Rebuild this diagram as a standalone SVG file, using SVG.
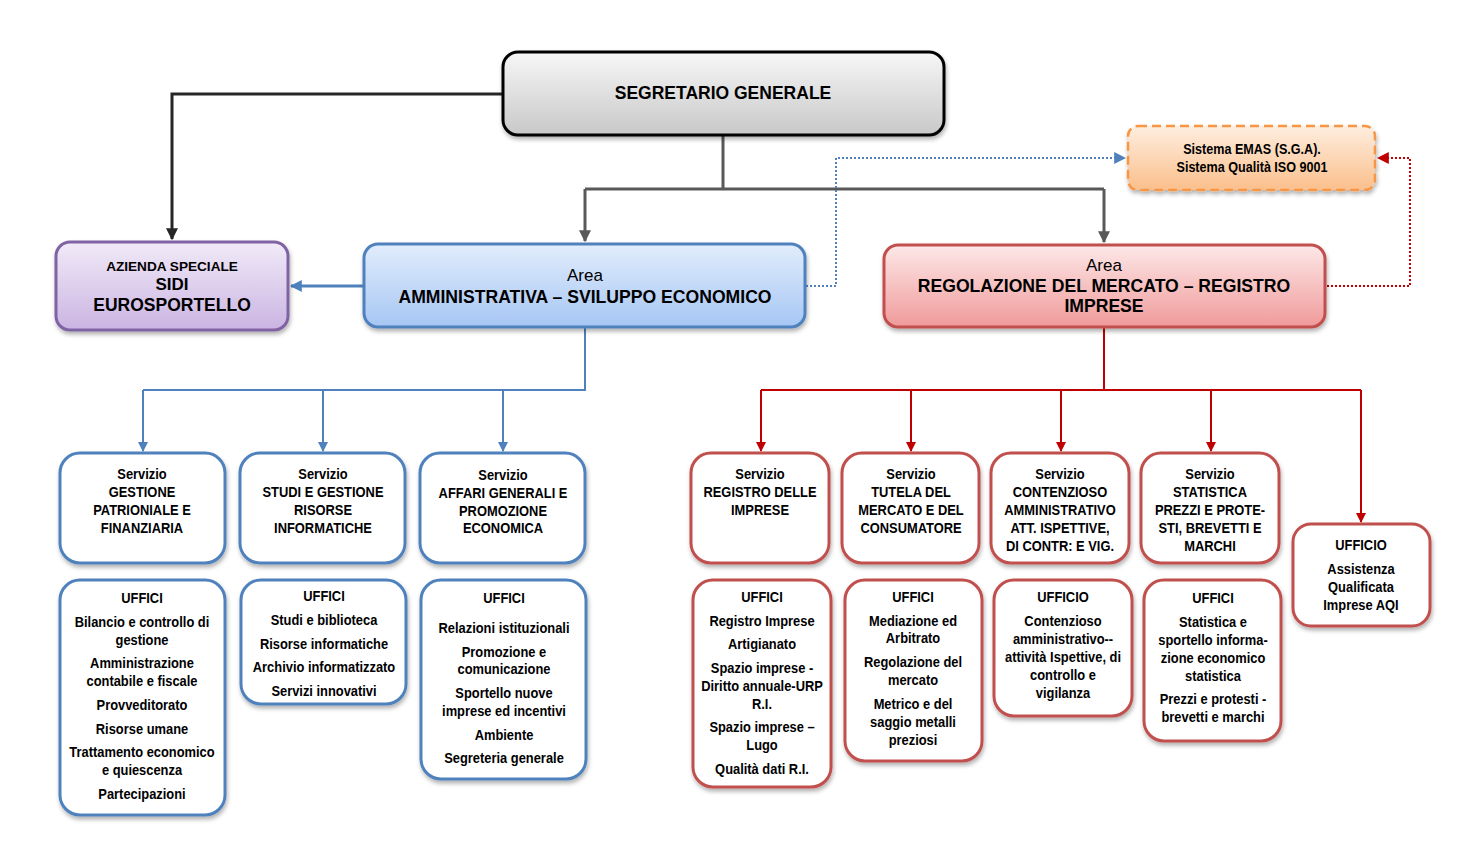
<svg xmlns="http://www.w3.org/2000/svg" width="1471" height="857" viewBox="0 0 1471 857">
<defs>
<linearGradient id="gGray" x1="0" y1="0" x2="0" y2="1"><stop offset="0" stop-color="#f7f7f7"/><stop offset="1" stop-color="#c8c8c8"/></linearGradient>
<linearGradient id="gPurple" x1="0" y1="0" x2="0" y2="1"><stop offset="0" stop-color="#f1eaf8"/><stop offset="1" stop-color="#cbb4e2"/></linearGradient>
<linearGradient id="gBlue" x1="0" y1="0" x2="0" y2="1"><stop offset="0" stop-color="#e2edfc"/><stop offset="1" stop-color="#a6c6f4"/></linearGradient>
<linearGradient id="gRed" x1="0" y1="0" x2="0" y2="1"><stop offset="0" stop-color="#fde8e8"/><stop offset="1" stop-color="#f09a9a"/></linearGradient>
<linearGradient id="gOrange" x1="0" y1="0" x2="0" y2="1"><stop offset="0" stop-color="#feeedf"/><stop offset="1" stop-color="#fbbf8c"/></linearGradient>
<filter id="sh" x="-10%" y="-10%" width="120%" height="130%"><feDropShadow dx="1" dy="3" stdDeviation="2" flood-color="#000" flood-opacity="0.3"/></filter>
<marker id="aGray" viewBox="0 0 10 10" refX="9" refY="5" markerWidth="4" markerHeight="4" orient="auto" markerUnits="strokeWidth"><path d="M0,0 L10,5 L0,10 z" fill="#595959"/></marker>
<marker id="aDark" viewBox="0 0 10 10" refX="9" refY="5" markerWidth="4" markerHeight="4" orient="auto" markerUnits="strokeWidth"><path d="M0,0 L10,5 L0,10 z" fill="#262626"/></marker>
<marker id="aBlue" viewBox="0 0 10 10" refX="9" refY="5" markerWidth="5" markerHeight="5" orient="auto" markerUnits="strokeWidth"><path d="M0,0 L10,5 L0,10 z" fill="#4f81bd"/></marker>
<marker id="aBlueT" viewBox="0 0 10 10" refX="9" refY="5" markerWidth="4" markerHeight="4" orient="auto" markerUnits="strokeWidth"><path d="M0,0 L10,5 L0,10 z" fill="#4f81bd"/></marker>
<marker id="aRed" viewBox="0 0 10 10" refX="9" refY="5" markerWidth="5" markerHeight="5" orient="auto" markerUnits="strokeWidth"><path d="M0,0 L10,5 L0,10 z" fill="#c00000"/></marker>
<marker id="aBlueD" viewBox="0 0 10 10" refX="9" refY="5" markerWidth="6" markerHeight="6" orient="auto" markerUnits="strokeWidth"><path d="M0,0 L10,5 L0,10 z" fill="#4f81bd"/></marker>
<marker id="aRedD" viewBox="0 0 10 10" refX="9" refY="5" markerWidth="6" markerHeight="6" orient="auto" markerUnits="strokeWidth"><path d="M0,0 L10,5 L0,10 z" fill="#c00000"/></marker>
</defs>
<style>
text{font-family:"Liberation Sans",Arial,sans-serif;fill:#000;text-anchor:middle;}
.n{font-weight:bold;font-size:15px;}
.b{font-weight:bold;}
.bs{stroke:#4f81bd;stroke-width:3;fill:#fff;}
.rs{stroke:#c0504d;stroke-width:3;fill:#fff;}
.cb{stroke:#4f81bd;stroke-width:2;fill:none;}
.cr{stroke:#c00000;stroke-width:2;fill:none;}
</style>
<rect width="1471" height="857" fill="#fff"/>
<g id="connectors">
<path d="M503,94 H172 V239" stroke="#262626" stroke-width="3" fill="none" marker-end="url(#aDark)"/>
<path d="M723,135 V189 M585,189 H1104" stroke="#595959" stroke-width="3" fill="none"/>
<path d="M585,189 V241" stroke="#595959" stroke-width="3" fill="none" marker-end="url(#aGray)"/>
<path d="M1104,189 V242" stroke="#595959" stroke-width="3" fill="none" marker-end="url(#aGray)"/>
<path d="M363,286 H291" stroke="#4f81bd" stroke-width="3" fill="none" marker-end="url(#aBlueT)"/>
<path d="M806,286 H836 V158 H1125" stroke="#4f81bd" stroke-width="2" stroke-dasharray="2,2" fill="none" marker-end="url(#aBlueD)"/>
<path d="M1327,286 H1410 V158 H1378" stroke="#c00000" stroke-width="2" stroke-dasharray="2,2" fill="none" marker-end="url(#aRedD)"/>
<path class="cb" d="M585,328 V390 H143"/>
<path class="cb" d="M143,390 V451" marker-end="url(#aBlue)"/>
<path class="cb" d="M323,390 V451" marker-end="url(#aBlue)"/>
<path class="cb" d="M503,390 V451" marker-end="url(#aBlue)"/>
<path class="cr" d="M1104,328 V390 M761,390 H1361"/>
<path class="cr" d="M761,390 V451" marker-end="url(#aRed)"/>
<path class="cr" d="M911,390 V451" marker-end="url(#aRed)"/>
<path class="cr" d="M1061,390 V451" marker-end="url(#aRed)"/>
<path class="cr" d="M1211,390 V451" marker-end="url(#aRed)"/>
<path class="cr" d="M1361,390 V522" marker-end="url(#aRed)"/>
</g>
<g id="segretario">
<rect x="503" y="52" width="441" height="83" rx="15" fill="url(#gGray)" stroke="#000" stroke-width="3" filter="url(#sh)"/>
<text x="723" y="99" class="b" font-size="17.5">SEGRETARIO GENERALE</text>
</g>
<g id="emas">
<rect x="1128" y="126" width="247" height="64" rx="10" fill="url(#gOrange)" stroke="#f79646" stroke-width="2.5" stroke-dasharray="9,5" filter="url(#sh)"/>
<g transform="translate(1252,0) scale(0.9,1)">
<text x="0" y="154" class="b" font-size="14">Sistema EMAS (S.G.A).</text>
<text x="0" y="172" class="b" font-size="14">Sistema Qualità ISO 9001</text>
</g>
</g>
<g id="azienda">
<rect x="56" y="242" width="232" height="88" rx="14" fill="url(#gPurple)" stroke="#8064a2" stroke-width="3" filter="url(#sh)"/>
<text x="172" y="271" class="b" font-size="13.6">AZIENDA SPECIALE</text>
<text x="172" y="290" class="b" font-size="17">SIDI</text>
<text x="172" y="311" class="b" font-size="17.5">EUROSPORTELLO</text>
</g>
<g id="area-amm">
<rect x="364" y="244" width="441" height="83" rx="14" fill="url(#gBlue)" stroke="#4f81bd" stroke-width="3" filter="url(#sh)"/>
<text x="585" y="281" font-size="17">Area</text>
<text x="585" y="303" class="b" font-size="17.6">AMMINISTRATIVA – SVILUPPO ECONOMICO</text>
</g>
<g id="area-reg">
<rect x="884" y="245" width="441" height="82" rx="14" fill="url(#gRed)" stroke="#c0504d" stroke-width="3" filter="url(#sh)"/>
<text x="1104" y="271" font-size="17">Area</text>
<text x="1104" y="292" class="b" font-size="17.6">REGOLAZIONE DEL MERCATO – REGISTRO</text>
<text x="1104" y="312" class="b" font-size="17.6">IMPRESE</text>
</g>
<g id="serv-gestione">
<rect class="bs" x="60" y="453" width="165" height="110" rx="20" filter="url(#sh)"/>
<g transform="translate(142,0) scale(0.86,1)">
<text class="n" x="0" y="479">Servizio</text>
<text class="n" x="0" y="497">GESTIONE</text>
<text class="n" x="0" y="515">PATRIONIALE E</text>
<text class="n" x="0" y="533">FINANZIARIA</text>
</g>
</g>
<g id="serv-studi">
<rect class="bs" x="240" y="453" width="165" height="110" rx="20" filter="url(#sh)"/>
<g transform="translate(323,0) scale(0.86,1)">
<text class="n" x="0" y="479">Servizio</text>
<text class="n" x="0" y="497">STUDI E GESTIONE</text>
<text class="n" x="0" y="515">RISORSE</text>
<text class="n" x="0" y="533">INFORMATICHE</text>
</g>
</g>
<g id="serv-affari">
<rect class="bs" x="420" y="453" width="165" height="110" rx="20" filter="url(#sh)"/>
<g transform="translate(503,0) scale(0.86,1)">
<text class="n" x="0" y="480">Servizio</text>
<text class="n" x="0" y="498">AFFARI GENERALI E</text>
<text class="n" x="0" y="516">PROMOZIONE</text>
<text class="n" x="0" y="533">ECONOMICA</text>
</g>
</g>
<g id="uff-gestione">
<rect class="bs" x="60" y="580" width="165" height="235" rx="20" filter="url(#sh)"/>
<g transform="translate(142,0) scale(0.86,1)">
<text class="n" x="0" y="603">UFFICI</text>
<text class="n" x="0" y="627">Bilancio e controllo di</text>
<text class="n" x="0" y="645">gestione</text>
<text class="n" x="0" y="668">Amministrazione</text>
<text class="n" x="0" y="686">contabile e fiscale</text>
<text class="n" x="0" y="710">Provveditorato</text>
<text class="n" x="0" y="734">Risorse umane</text>
<text class="n" x="0" y="757">Trattamento economico</text>
<text class="n" x="0" y="775">e quiescenza</text>
<text class="n" x="0" y="799">Partecipazioni</text>
</g>
</g>
<g id="uff-studi">
<rect class="bs" x="241" y="580" width="165" height="124" rx="20" filter="url(#sh)"/>
<g transform="translate(324,0) scale(0.86,1)">
<text class="n" x="0" y="601">UFFICI</text>
<text class="n" x="0" y="625">Studi e biblioteca</text>
<text class="n" x="0" y="649">Risorse informatiche</text>
<text class="n" x="0" y="672">Archivio informatizzato</text>
<text class="n" x="0" y="696">Servizi innovativi</text>
</g>
</g>
<g id="uff-affari">
<rect class="bs" x="421" y="580" width="165" height="199" rx="20" filter="url(#sh)"/>
<g transform="translate(504,0) scale(0.86,1)">
<text class="n" x="0" y="603">UFFICI</text>
<text class="n" x="0" y="633">Relazioni istituzionali</text>
<text class="n" x="0" y="657">Promozione e</text>
<text class="n" x="0" y="674">comunicazione</text>
<text class="n" x="0" y="698">Sportello nuove</text>
<text class="n" x="0" y="716">imprese ed incentivi</text>
<text class="n" x="0" y="740">Ambiente</text>
<text class="n" x="0" y="763">Segreteria generale</text>
</g>
</g>
<g id="serv-registro">
<rect class="rs" x="691" y="453" width="138" height="110" rx="20" filter="url(#sh)"/>
<g transform="translate(760,0) scale(0.86,1)">
<text class="n" x="0" y="479">Servizio</text>
<text class="n" x="0" y="497">REGISTRO DELLE</text>
<text class="n" x="0" y="515">IMPRESE</text>
</g>
</g>
<g id="serv-tutela">
<rect class="rs" x="842" y="453" width="137" height="110" rx="20" filter="url(#sh)"/>
<g transform="translate(911,0) scale(0.86,1)">
<text class="n" x="0" y="479">Servizio</text>
<text class="n" x="0" y="497">TUTELA DEL</text>
<text class="n" x="0" y="515">MERCATO E DEL</text>
<text class="n" x="0" y="533">CONSUMATORE</text>
</g>
</g>
<g id="serv-contenzioso">
<rect class="rs" x="991" y="453" width="138" height="110" rx="20" filter="url(#sh)"/>
<g transform="translate(1060,0) scale(0.86,1)">
<text class="n" x="0" y="479">Servizio</text>
<text class="n" x="0" y="497">CONTENZIOSO</text>
<text class="n" x="0" y="515">AMMINISTRATIVO</text>
<text class="n" x="0" y="533">ATT. ISPETTIVE,</text>
<text class="n" x="0" y="551">DI CONTR: E VIG.</text>
</g>
</g>
<g id="serv-statistica">
<rect class="rs" x="1141" y="453" width="138" height="110" rx="20" filter="url(#sh)"/>
<g transform="translate(1210,0) scale(0.86,1)">
<text class="n" x="0" y="479">Servizio</text>
<text class="n" x="0" y="497">STATISTICA</text>
<text class="n" x="0" y="515">PREZZI E PROTE-</text>
<text class="n" x="0" y="533">STI, BREVETTI E</text>
<text class="n" x="0" y="551">MARCHI</text>
</g>
</g>
<g id="uff-aqi">
<rect class="rs" x="1293" y="524" width="137" height="102" rx="18" filter="url(#sh)"/>
<g transform="translate(1361,0) scale(0.86,1)">
<text class="n" x="0" y="550">UFFICIO</text>
<text class="n" x="0" y="574">Assistenza</text>
<text class="n" x="0" y="592">Qualificata</text>
<text class="n" x="0" y="610">Imprese AQI</text>
</g>
</g>
<g id="uff-registro">
<rect class="rs" x="693" y="580" width="138" height="207" rx="20" filter="url(#sh)"/>
<g transform="translate(762,0) scale(0.86,1)">
<text class="n" x="0" y="602">UFFICI</text>
<text class="n" x="0" y="626">Registro Imprese</text>
<text class="n" x="0" y="649">Artigianato</text>
<text class="n" x="0" y="673">Spazio imprese -</text>
<text class="n" x="0" y="691">Diritto annuale-URP</text>
<text class="n" x="0" y="709">R.I.</text>
<text class="n" x="0" y="732">Spazio imprese –</text>
<text class="n" x="0" y="750">Lugo</text>
<text class="n" x="0" y="774">Qualità dati R.I.</text>
</g>
</g>
<g id="uff-tutela">
<rect class="rs" x="845" y="580" width="137" height="181" rx="20" filter="url(#sh)"/>
<g transform="translate(913,0) scale(0.86,1)">
<text class="n" x="0" y="602">UFFICI</text>
<text class="n" x="0" y="626">Mediazione ed</text>
<text class="n" x="0" y="643">Arbitrato</text>
<text class="n" x="0" y="667">Regolazione del</text>
<text class="n" x="0" y="685">mercato</text>
<text class="n" x="0" y="709">Metrico e del</text>
<text class="n" x="0" y="727">saggio metalli</text>
<text class="n" x="0" y="745">preziosi</text>
</g>
</g>
<g id="uff-contenzioso">
<rect class="rs" x="994" y="580" width="138" height="136" rx="20" filter="url(#sh)"/>
<g transform="translate(1063,0) scale(0.86,1)">
<text class="n" x="0" y="602">UFFICIO</text>
<text class="n" x="0" y="626">Contenzioso</text>
<text class="n" x="0" y="644">amministrativo--</text>
<text class="n" x="0" y="662">attività Ispettive, di</text>
<text class="n" x="0" y="680">controllo e</text>
<text class="n" x="0" y="698">vigilanza</text>
</g>
</g>
<g id="uff-statistica">
<rect class="rs" x="1144" y="580" width="137" height="161" rx="20" filter="url(#sh)"/>
<g transform="translate(1213,0) scale(0.86,1)">
<text class="n" x="0" y="603">UFFICI</text>
<text class="n" x="0" y="627">Statistica e</text>
<text class="n" x="0" y="645">sportello informa-</text>
<text class="n" x="0" y="663">zione economico</text>
<text class="n" x="0" y="681">statistica</text>
<text class="n" x="0" y="704">Prezzi e protesti -</text>
<text class="n" x="0" y="722">brevetti e marchi</text>
</g>
</g>
</svg>
